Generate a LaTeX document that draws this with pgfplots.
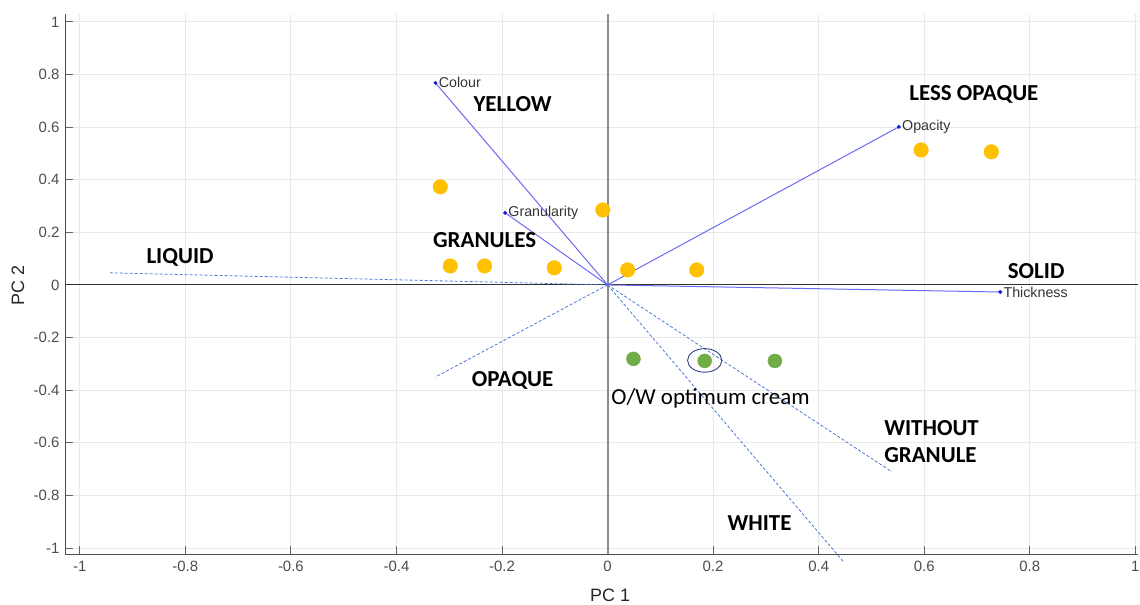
\documentclass[border=0pt]{standalone}
\usepackage{pgfplots}
\pgfplotsset{compat=1.18}
\usepackage{fontspec}
\setmainfont{Liberation Sans}
\newfontfamily\carlito{Carlito}
\definecolor{vecblue}{HTML}{6A6AF0}
\definecolor{dotblue}{HTML}{1A1AE6}
\definecolor{dashblue}{HTML}{4A78D6}
\definecolor{ptyellow}{HTML}{FFC000}
\definecolor{ptgreen}{HTML}{70AD47}
\definecolor{navy}{HTML}{2F4480}
\definecolor{tickgray}{HTML}{4D4D4D}
\begin{document}
\begin{tikzpicture}
\begin{axis}[
  scale only axis, width=1073bp, height=540bp,
  xmin=-1.028, xmax=1.005, ymin=-1.023, ymax=1.03,
  axis lines*=left,
  axis line style={draw=black!70, line width=0.9bp},
  xtick={-1,-0.8,-0.6,-0.4,-0.2,0,0.2,0.4,0.6,0.8,1},
  ytick={-1,-0.8,-0.6,-0.4,-0.2,0,0.2,0.4,0.6,0.8,1},
  grid=major, grid style={draw=black!9, line width=0.9bp},
  tick style={draw=black!60, line width=0.9bp},
  major tick length=8bp, tick align=inside,
  ticklabel style={font=\fontsize{15}{15}\selectfont, text=tickgray, /pgf/number format/assume math mode=true},
  xticklabel style={yshift=-4bp},
  yticklabel style={xshift=-2bp},
  xlabel={PC 1}, ylabel={PC 2},
  label style={font=\fontsize{18}{18}\selectfont, text=black!85},
  xlabel style={at={(axis description cs:0.508,0)}, anchor=center, yshift=-41bp},
  ylabel style={at={(axis description cs:0,0.498)}, anchor=center, rotate=0, yshift=47bp},
  clip=false,
]
% zero lines
\addplot[draw=black!45, line width=2.1bp] coordinates {(0,-1.023) (0,1.03)};
\addplot[draw=black!80, line width=1bp] coordinates {(-1.028,0) (1.005,0)};
% dashed directions
\addplot[dashblue, line width=0.8bp, dash pattern=on 3bp off 2bp] coordinates {(0,0) (-0.943,0.046)};
\addplot[dashblue, line width=0.8bp, dash pattern=on 3bp off 2bp] coordinates {(0,0) (-0.326,-0.35)};
\addplot[dashblue, line width=0.8bp, dash pattern=on 3bp off 2bp] coordinates {(0,0) (0.539,-0.711)};
\addplot[dashblue, line width=0.8bp, dash pattern=on 3bp off 2bp] coordinates {(0,0) (0.446,-1.05)};
% loading vectors
\addplot[vecblue, line width=1bp, mark=*, mark indices={2}, mark size=1.4bp, mark options={dotblue}] coordinates {(0,0) (-0.326,0.768)};
\addplot[vecblue, line width=1bp, mark=*, mark indices={2}, mark size=1.4bp, mark options={dotblue}] coordinates {(0,0) (-0.194,0.274)};
\addplot[vecblue, line width=1bp, mark=*, mark indices={2}, mark size=1.4bp, mark options={dotblue}] coordinates {(0,0) (0.552,0.601)};
\addplot[vecblue, line width=1bp, mark=*, mark indices={2}, mark size=1.4bp, mark options={dotblue}] coordinates {(0,0) (0.744,-0.027)};
% scores
\addplot[only marks, mark=*, mark size=7.3bp, mark options={draw=ptyellow, fill=ptyellow}] coordinates {
(-0.317,0.373) (-0.298,0.072) (-0.233,0.072) (-0.101,0.065) (-0.009,0.285)
(0.038,0.057) (0.169,0.057) (0.594,0.513) (0.727,0.506)};
\addplot[only marks, mark=*, mark size=7bp, mark options={draw=ptgreen, fill=ptgreen}] coordinates {
(0.049,-0.281) (0.184,-0.289) (0.317,-0.289)};
% highlight ellipse
\addplot[only marks, mark=o, mark size=11.8bp, mark options={draw=navy, line width=0.9bp, xscale=1.45}] coordinates {(0.184,-0.287)};
% variable labels
\node[anchor=west, font=\fontsize{14.3}{14}\selectfont, text=black!80, inner sep=1bp] at (axis cs:-0.322,0.768) {Colour};
\node[anchor=west, font=\fontsize{14.3}{14}\selectfont, text=black!80, inner sep=1bp] at (axis cs:-0.19,0.274) {Granularity};
\node[anchor=west, font=\fontsize{14.3}{14}\selectfont, text=black!80, inner sep=1bp] at (axis cs:0.556,0.601) {Opacity};
\node[anchor=west, font=\fontsize{14.3}{14}\selectfont, text=black!80, inner sep=1bp] at (axis cs:0.748,-0.027) {Thickness};
% annotations
\node[font=\carlito\bfseries\fontsize{23}{23}\selectfont] at (axis cs:-0.18,0.688) {YELLOW};
\node[font=\carlito\bfseries\fontsize{23}{23}\selectfont] at (axis cs:-0.233,0.171) {GRANULES};
\node[font=\carlito\bfseries\fontsize{23}{23}\selectfont] at (axis cs:-0.81,0.106) {LIQUID};
\node[font=\carlito\bfseries\fontsize{23}{23}\selectfont] at (axis cs:0.694,0.726) {LESS OPAQUE};
\node[font=\carlito\bfseries\fontsize{23}{23}\selectfont] at (axis cs:0.812,0.053) {SOLID};
\node[font=\carlito\bfseries\fontsize{23}{23}\selectfont] at (axis cs:-0.18,-0.365) {OPAQUE};
\node[font=\carlito\bfseries\fontsize{23}{23}\selectfont] at (axis cs:0.288,-0.905) {WHITE};
\node[font=\carlito\bfseries\fontsize{23}{23}\selectfont, anchor=west, align=left, inner sep=0pt] at (axis cs:0.524,-0.597) {WITHOUT\\[4bp]GRANULE};
\node[font=\carlito\fontsize{23}{23}\selectfont] at (axis cs:0.195,-0.433) {O/W optimum cream};
\end{axis}
\pgfresetboundingbox
\path (current axis.south west) ++(-65bp,-51bp) rectangle ++(1140bp,605bp);
\end{tikzpicture}
\end{document}
